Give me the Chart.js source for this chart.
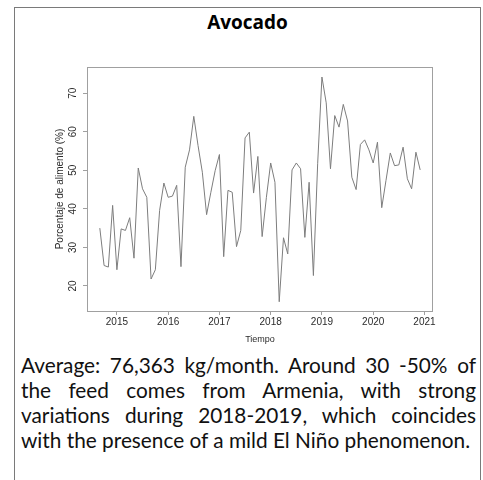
<!DOCTYPE html>
<html>
<head>
<meta charset="utf-8">
<script src="https://cdn.jsdelivr.net/npm/chart.js@4/dist/chart.umd.min.js"></script>
<style>
  html, body { margin:0; padding:0; background:#fff; }
  #frame { position:absolute; left:14px; top:7px; width:467px; height:480px; border:1px solid #7a7a7a; box-sizing:border-box; }
  #title { position:absolute; left:14px; width:467px; top:12.5px; line-height:19px; text-align:center;
           font-family:"Open Sans"; font-weight:bold; font-size:19px; color:#000; }
  #wrap { position:absolute; left:0; top:0; width:483px; height:350px; }
  #caption { position:absolute; left:21px; top:352px; width:455px; font-family:Lato; font-size:20.8px;
             line-height:25px; color:#111; }
  #caption .j { text-align:justify; text-align-last:justify; white-space:nowrap; }
</style>
</head>
<body>
<div id="frame"></div>
<div id="title">Avocado</div>
<div id="wrap"><canvas id="c"></canvas></div>
<div id="caption">
  <div class="j">Average: 76,363 kg/month. Around 30 -50% of</div>
  <div class="j">the feed comes from Armenia, with strong</div>
  <div class="j">variations during 2018-2019, which coincides</div>
  <div>with the presence of a mild El Niño phenomenon.</div>
</div>
<script>
// monthly series, starts Sep 2014, ends Dec 2020
const startYear = 2014;
const startMonth = 9;
const feedPct = [
  35.0, 25.3, 24.9, 40.9,
  24.2, 34.8, 34.4, 37.7, 27.2, 50.6, 45.2, 43.0, 21.8, 24.2, 39.6, 46.7,
  43.0, 43.3, 46.1, 25.0, 50.8, 55.3, 64.0, 56.4, 49.5, 38.5, 44.3, 49.9,
  54.1, 27.6, 44.8, 44.3, 30.2, 34.4, 58.4, 59.9, 44.1, 53.6, 32.8, 43.0,
  51.9, 46.9, 15.9, 32.5, 28.3, 50.1, 51.9, 50.4, 32.6, 46.9, 22.7, 51.7,
  74.2, 67.5, 50.4, 64.2, 61.2, 67.1, 62.8, 48.2, 45.0, 56.7, 57.9, 55.3,
  51.9, 57.3, 40.3, 47.4, 54.5, 51.2, 51.4, 56.0, 47.8, 45.2, 54.7, 50.1
];
const xTicks = [2015, 2016, 2017, 2018, 2019, 2020, 2021];
const yTicks = [20, 30, 40, 50, 60, 70];

const points = feedPct.map((v, i) => ({ x: startYear + (startMonth - 1 + i) / 12, y: v }));

// box around plot + y tick labels turned like R does
const rStyle = {
  id: 'rStyle',
  afterDatasetsDraw(chart){
    const { ctx, chartArea: a, scales: { y } } = chart;
    ctx.save();
    ctx.strokeStyle = '#a0a0a0';
    ctx.lineWidth = 1;
    ctx.strokeRect(a.left + 0.5, a.top + 0.5, a.right - a.left - 1, a.bottom - a.top);
    ctx.font = '10px "Liberation Sans"';
    ctx.fillStyle = '#2b2b2b';
    ctx.textAlign = 'center';
    ctx.textBaseline = 'middle';
    yTicks.forEach(v => {
      ctx.save();
      ctx.translate(a.left - 14, y.getPixelForValue(v));
      ctx.rotate(-Math.PI / 2);
      ctx.fillText(String(v), 0, 0);
      ctx.restore();
    });
    ctx.restore();
  }
};

new Chart(document.getElementById('c'), {
  type: 'line',
  data: {
    datasets: [{
      data: points,
      borderColor: '#7d7d7d',
      borderWidth: 1,
      pointRadius: 0,
      tension: 0,
      fill: false
    }]
  },
  options: {
    responsive: true,
    maintainAspectRatio: false,
    animation: false,
    layout: { padding: { top: 67, right: 50, left: 0, bottom: 0 } },
    plugins: { legend: { display: false }, tooltip: { enabled: false } },
    scales: {
      x: {
        type: 'linear',
        min: 2014.4167,
        max: 2021.1667,
        afterBuildTicks: s => { s.ticks = xTicks.map(v => ({ value: v })); },
        afterFit: s => { s.height = 39; },
        border: { display: false },
        grid: { drawOnChartArea: false, drawTicks: true, tickLength: 4, color: '#a0a0a0' },
        ticks: { font: { family: 'Liberation Sans', size: 10 }, color: '#2b2b2b', padding: 1,
                 maxRotation: 0, autoSkip: false, callback: v => String(v) },
        title: { display: true, text: 'Tiempo', font: { family: 'Liberation Sans', size: 9 },
                 color: '#2b2b2b', padding: { top: 0, bottom: 5 } }
      },
      y: {
        min: 13.5,
        max: 76.8,
        afterBuildTicks: s => { s.ticks = yTicks.map(v => ({ value: v })); },
        afterFit: s => { s.width = 87; },
        border: { display: false },
        grid: { drawOnChartArea: false, drawTicks: true, tickLength: 4, color: '#a0a0a0' },
        ticks: { display: false },
        title: { display: true, text: 'Porcentaje de alimento (%)', font: { family: 'Liberation Sans', size: 10 },
                 color: '#2b2b2b', padding: { top: 54, bottom: 0 } }
      }
    }
  },
  plugins: [rStyle]
});
</script>
</body>
</html>
